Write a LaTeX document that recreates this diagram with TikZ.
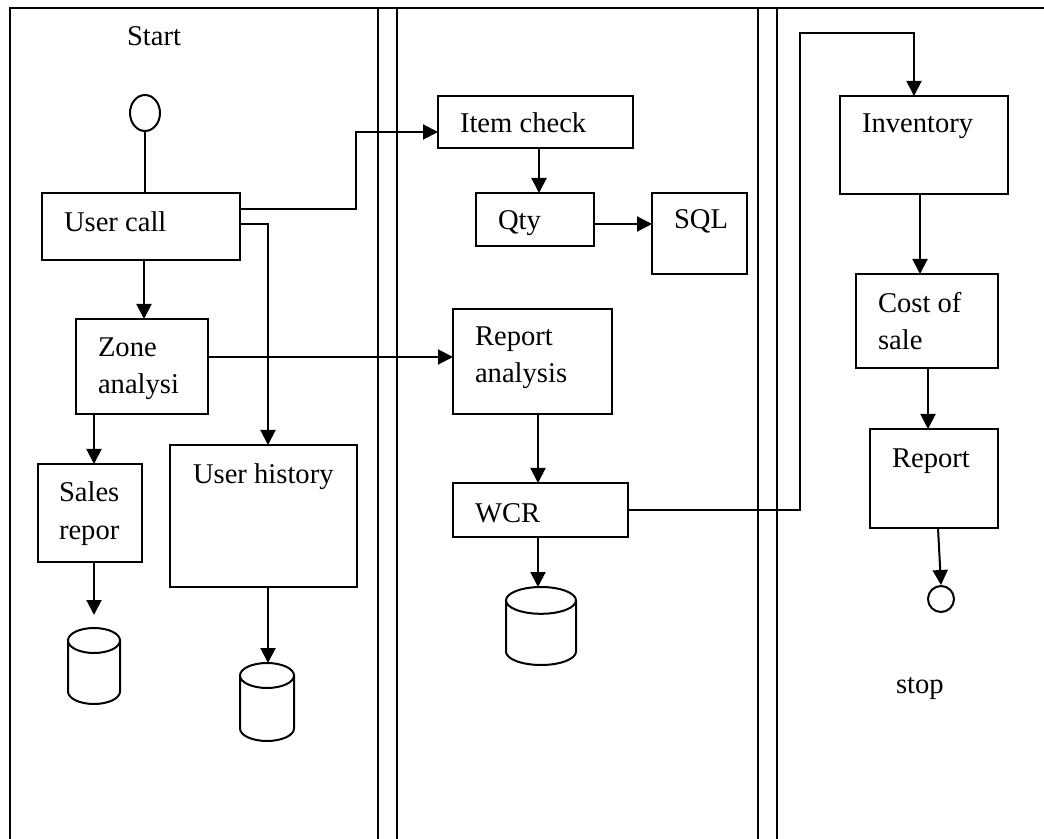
\documentclass[tikz,border=0pt]{standalone}
\usepackage{fontspec}
\setmainfont{Liberation Serif}
\usetikzlibrary{arrows.meta,shapes.geometric,fit}

\begin{document}
\begin{tikzpicture}[x=0.5pt, y=-0.5pt, line width=1pt, >={Triangle[length=7.5pt,width=7.5pt]},
  box/.style={draw, rectangle, inner sep=0pt, outer sep=0pt},
  lbl/.style={anchor=base west, inner sep=0pt, align=left, font=\fontsize{14.3}{18.6}\selectfont},
  db/.style={rectangle, inner sep=0pt, outer sep=0pt},
  flow/.style={->}]

\useasboundingbox (0,0) rectangle (1044,839);

% frame and lanes
\draw (1044,8) -- (10,8) -- (10,839);
\foreach \x in {378,397,758,777} \draw (\x,8) -- (\x,839);

% first lane
\node[lbl] (start-t) at (126,46) {Start};
\node[draw, ellipse, minimum width=15pt, minimum height=18pt, inner sep=0pt] (start) at (145,113) {};
\node[box, fit={(42,193) (240,260)}] (ucall) {};
\node[lbl] (ucall-t) at (63,232) {User call};
\node[box, fit={(76,319) (208,414)}] (zone) {};
\node[lbl] (zone-t) at (97,394) {Zone\\analysi};
\node[box, fit={(38,464) (142,562)}] (sales) {};
\node[lbl] (sales-t) at (58,539) {Sales\\repor};
\node[box, fit={(170,445) (357,587)}] (uhist) {};
\node[lbl] (uhist-t) at (192,483) {User history};
\node[db, fit={(68,628) (120,704)}] (db1) {};
\node[db, fit={(240,663) (294,741)}] (db2) {};

% second lane
\node[box, fit={(438,96) (633,148)}] (itemchk) {};
\node[lbl] (itemchk-t) at (459,133) {Item check};
\node[box, fit={(476,193) (594,246)}] (qty) {};
\node[lbl] (qty-t) at (497,230) {Qty};
\node[box, fit={(652,193) (747,274)}] (sql) {};
\node[lbl] (sql-t) at (673,229) {SQL};
\node[box, fit={(453,309) (612,414)}] (rana) {};
\node[lbl] (rana-t) at (474,383) {Report\\analysis};
\node[box, fit={(453,483) (628,537)}] (wcr) {};
\node[lbl] (wcr-t) at (474,522) {WCR};
\node[db, fit={(506,587) (576,665)}] (db3) {};

% third lane
\node[box, fit={(840,96) (1008,194)}] (inv) {};
\node[lbl] (inv-t) at (861,133) {Inventory};
\node[box, fit={(856,274) (998,368)}] (cost) {};
\node[lbl] (cost-t) at (877,350) {Cost of\\sale};
\node[box, fit={(870,429) (998,528)}] (rep) {};
\node[lbl] (rep-t) at (891,467) {Report};
\node[draw, circle, minimum size=13pt, inner sep=0pt] (stopc) at (941,599) {};
\node[lbl] (stop-t) at (895,693) {stop};

% data stores
\foreach \n/\rx/\ry in {db1/13pt/6.25pt, db2/13.5pt/6.25pt, db3/17.5pt/6.7pt}
  \draw ([yshift=-\ry]\n.north west) -- ([yshift=\ry]\n.south west)
    arc[start angle=180, end angle=360, x radius=\rx, y radius=\ry]
    -- ([yshift=-\ry]\n.north east)
    arc[start angle=0, end angle=180, x radius=\rx, y radius=\ry]
    arc[start angle=180, end angle=360, x radius=\rx, y radius=\ry];

\coordinate (up1) at (356,132);
\coordinate (up2) at (800,33);

% connectors
\draw (start.south) -- (start.south |- ucall.north);
\draw[flow] ([yshift=8.75pt]ucall.east) -| (up1) -- (up1 -| itemchk.west);
\draw[flow] ([yshift=1.25pt]ucall.east) -| ([xshift=2.25pt]uhist.north);
\draw[flow] ([xshift=1.5pt]ucall.south) -- ([xshift=1.5pt]ucall.south |- zone.north);
\draw[flow] ([yshift=4.75pt]zone.east) -- ([yshift=4.75pt]zone.east -| rana.west);
\draw[flow] ([xshift=2pt]sales.north |- zone.south) -- ([xshift=2pt]sales.north);
\draw[flow] (sales.south -| db1.north) -- ([yshift=6.5pt]db1.north);
\draw[flow] ([xshift=0.5pt]db2.north |- uhist.south) -- ([xshift=0.5pt]db2.north);
\draw[flow] ([xshift=1.75pt]itemchk.south) -- ([xshift=1.75pt]itemchk.south |- qty.north);
\draw[flow] ([yshift=-2.25pt]qty.east) -- ([yshift=-2.25pt]qty.east -| sql.west);
\draw[flow] ([xshift=2.75pt]rana.south) -- ([xshift=2.75pt]rana.south |- wcr.north);
\draw[flow] ([xshift=-1.5pt]db3.north |- wcr.south) -- ([xshift=-1.5pt]db3.north);
\draw[flow] (wcr.east) -| (up2) -| ([xshift=-5pt]inv.north);
\draw[flow] ([xshift=-2pt]inv.south) -- ([xshift=-2pt]inv.south |- cost.north);
\draw[flow] ([xshift=0.5pt]cost.south) -- ([xshift=0.5pt]cost.south |- rep.north);
\draw[flow] ([xshift=2pt]rep.south) -- (stopc.north);

\end{tikzpicture}
\end{document}
